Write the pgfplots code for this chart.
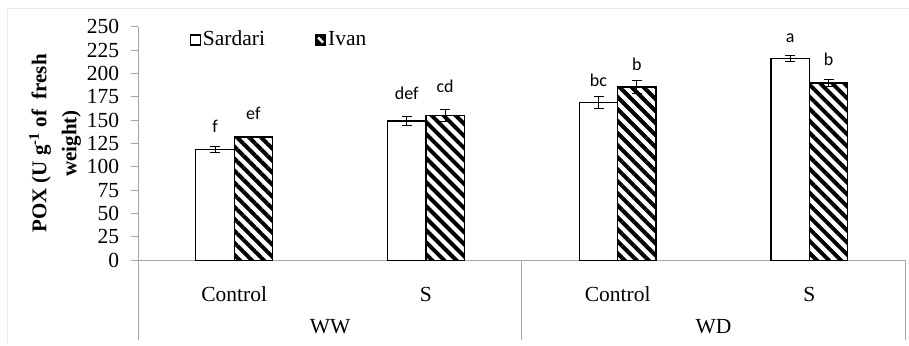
\documentclass[border=0pt]{standalone}
\usepackage{fontspec}
\setmainfont{Liberation Serif}
\newfontfamily\calibri{Carlito}
\usepackage{pgfplots}
\pgfplotsset{compat=1.18}
\usetikzlibrary{patterns.meta}
\definecolor{axgray}{HTML}{A6A6A6}
\begin{document}
\fontsize{21}{25}\selectfont
\begin{tikzpicture}
\path[use as bounding box] (-138.3pt,-84.7pt) rectangle (770.7pt,260.3pt);
\draw[black!8, line width=1pt] (-131pt,-84.7pt) -- (-131pt,252pt) -- (770.7pt,252pt);
\begin{axis}[
  scale only axis, width=767pt, height=233.6pt,
  xmin=-0.5, xmax=3.5, ymin=0, ymax=250,
  axis lines*=left,
  axis line style={axgray, line width=1pt},
  ytick={0,25,...,250},
  tick align=outside, major tick length=7pt,
  y tick style={axgray, line width=1pt},
  xtick={0,1,2,3}, xticklabels={Control,S,Control,S},
  x tick style={draw=none},
  ticklabel style={font=\fontsize{21.5}{25}\selectfont},
  /pgf/number format/assume math mode=true,
  xticklabel style={anchor=base, yshift=-34.4pt},
  yticklabel style={xshift=-5pt},
  clip=false,
  ybar=0pt, bar width=0.2,
  legend style={at={(rel axis cs:0.063,0.943)}, anchor=west, draw=none, fill=none,
    legend columns=2, font=\fontsize{21.5}{25}\selectfont,
    /tikz/every even column/.append style={column sep=48pt},
    nodes={inner sep=2pt}},
  legend cell align=left,
]
\addplot[draw=black, line width=1.3pt, fill=white, bar shift=-0.1,
  legend image code/.code={\draw[black, line width=1.1pt, fill=white] (0pt,-5pt) rectangle (10pt,5pt);},
  error bars/.cd, y dir=both, y explicit,
  error bar style={black, line width=0.8pt},
  error mark options={rotate=90, mark size=5pt, line width=0.8pt, black}]
  coordinates {(0,118.5) +- (0,3.2) (1,149) +- (0,4.6) (2,168.7) +- (0,6.2) (3,215.8) +- (0,3.0)};
\addlegendentry{Sardari}
\addplot[draw=black, line width=1.3pt, pattern={Lines[angle=-45,distance=8.5pt,line width=4pt]}, pattern color=black, bar shift=0.1,
  legend image code/.code={\draw[black, line width=1.1pt, fill=black] (0pt,-5pt) rectangle (10pt,5pt); \draw[white, line width=2.5pt] (2.5pt,2.5pt) -- (7.5pt,-2.5pt);},
  error bars/.cd, y dir=both, y explicit,
  error bar style={black, line width=0.8pt},
  error mark options={rotate=90, mark size=5pt, line width=0.8pt, black}]
  coordinates {(0,132) +- (0,0.5) (1,155) +- (0,6.5) (2,185.5) +- (0,6.5) (3,189.8) +- (0,3.7)};
\addlegendentry{Ivan}
% significance letters
\begin{scope}[every node/.style={anchor=base, font=\calibri\fontsize{18}{20}\selectfont, inner sep=0pt}]
\node at (axis cs:-0.1,137) {f};
\node at (axis cs:0.1,151) {ef};
\node at (axis cs:0.9,172.6) {def};
\node at (axis cs:1.1,179.4) {cd};
\node at (axis cs:1.9,185.8) {bc};
\node at (axis cs:2.1,203) {b};
\node at (axis cs:2.9,232.9) {a};
\node at (axis cs:3.1,208.3) {b};
\end{scope}
% category axis
\draw[axgray, line width=1pt] (axis cs:-0.5,0) -- ([yshift=-80pt]axis cs:-0.5,0);
\draw[axgray, line width=1pt] (axis cs:1.5,0) -- ([yshift=-80pt]axis cs:1.5,0);
\draw[axgray, line width=1pt] (axis cs:3.5,0) -- ([yshift=-80pt]axis cs:3.5,0);
\node[anchor=base, font=\fontsize{21.5}{25}\selectfont] at ([yshift=-73pt]axis cs:0.5,0) {WW};
\node[anchor=base, font=\fontsize{21.5}{25}\selectfont] at ([yshift=-73pt]axis cs:2.5,0) {WD};
\node[rotate=90, align=center, font=\bfseries\fontsize{21}{30}\selectfont] at ([xshift=-83.3pt]rel axis cs:0,0.5) {POX (U g\textsuperscript{-1} of\ \ fresh\\weight)};
\end{axis}
\end{tikzpicture}
\end{document}
